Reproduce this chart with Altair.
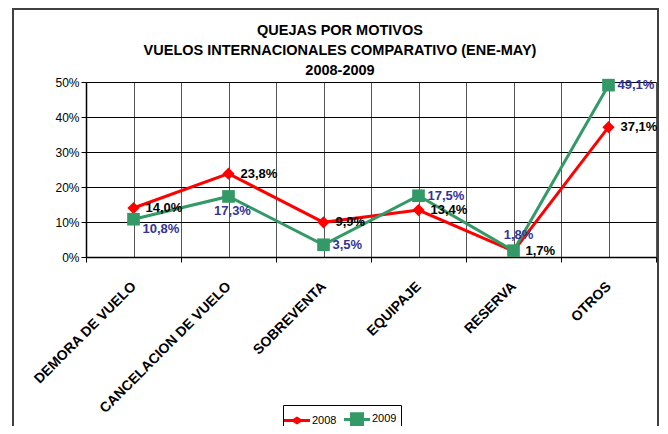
import json
import altair as alt
import pandas as pd

categorias = ["DEMORA DE VUELO", "CANCELACION DE VUELO", "SOBREVENTA",
              "EQUIPAJE", "RESERVA", "OTROS"]
valores_2008 = [14.0, 23.8, 9.9, 13.4, 1.7, 37.1]
valores_2009 = [10.8, 17.3, 3.5, 17.5, 1.8, 49.1]
series = ["2008", "2009"]
y_ticks = [0, 10, 20, 30, 40, 50]
titulo = ["QUEJAS POR MOTIVOS",
          "VUELOS INTERNACIONALES COMPARATIVO (ENE-MAY)",
          "2008-2009"]

rows = []
for s, vals in zip(series, [valores_2008, valores_2009]):
    for i, (c, v) in enumerate(zip(categorias, vals)):
        rows.append({"idx": i, "categoria": c, "serie": s, "valor": v})
df = pd.DataFrame(rows)

FONT = "Liberation Sans"
RED = "#FF0000"
GREEN = "#339966"
BLUE = "#333399"

grid_vals = [i / 2 - 0.5 for i in range(2 * len(categorias) + 1)]
cats_js = json.dumps(categorias)

x_enc = alt.X(
    "idx:Q",
    title=None,
    scale=alt.Scale(domain=[-0.5, len(categorias) - 0.5], nice=False, zero=False),
    axis=alt.Axis(
        values=grid_vals,
        labelExpr=f"datum.value % 1 == 0 ? {cats_js}[datum.value] : ''",
        labelAngle=315,
        labelAlign="right",
        labelBaseline="middle",
        labelPadding=22,
        labelFont=FONT,
        labelFontSize=14,
        labelFontWeight="bold",
        labelColor="black",
        labelOverlap=False,
        labelBound=False,
        labelFlush=False,
        grid=True,
        gridColor="#555555",
        gridWidth=1,
        gridOpacity=1,
        domainColor="black",
        domainWidth=1.5,
        tickColor="black",
        tickSize=5,
        tickOpacity={"condition": {"test": "datum.value % 1 != 0", "value": 1}, "value": 0},
    ),
)
y_enc = alt.Y(
    "valor:Q",
    title=None,
    scale=alt.Scale(domain=[0, 50], nice=False, zero=True),
    axis=alt.Axis(
        values=y_ticks,
        labelExpr="datum.value + '%'",
        labelFont=FONT,
        labelFontSize=12,
        labelColor="black",
        labelPadding=2,
        grid=True,
        gridColor="black",
        gridWidth=1,
        gridOpacity=1,
        domainColor="black",
        domainWidth=1.5,
        tickColor="black",
        tickSize=5,
    ),
)

base = alt.Chart(df).transform_calculate(
    lbl="replace(format(datum.valor, '.1f'), '.', ',') + '%'"
)

frame = alt.Chart(pd.DataFrame({"k": [0]})).mark_rect(
    fillOpacity=0, stroke="#404040", strokeWidth=2
).encode(
    x=alt.value(-73), x2=alt.value(572), y=alt.value(-73), y2=alt.value(420)
)

def serie(s):
    return base.transform_filter(f"datum.serie == '{s}'")

line08 = serie("2008").mark_line(color=RED, strokeWidth=3).encode(x=x_enc, y=y_enc)
line09 = serie("2009").mark_line(color=GREEN, strokeWidth=3).encode(x=x_enc, y=y_enc)
pts08 = serie("2008").mark_point(shape="diamond", filled=True, size=150, color=RED,
                                 opacity=1).encode(x=x_enc, y=y_enc)
pts09 = serie("2009").mark_point(shape="square", filled=True, size=160, color=GREEN,
                                 opacity=1).encode(x=x_enc, y=y_enc)

lab_style = dict(font=FONT, fontSize=13, fontWeight="bold")
lab08 = serie("2008").mark_text(align="left", baseline="middle", dx=12, color="black",
                                **lab_style).encode(x=x_enc, y=y_enc, text="lbl:N")
lab09_r = serie("2009").transform_filter("datum.idx == 2 || datum.idx == 3 || datum.idx == 5").mark_text(
    align="left", baseline="middle", dx=9, color=BLUE, **lab_style
).encode(x=x_enc, y=y_enc, text="lbl:N")
lab09_d = serie("2009").transform_filter("datum.idx == 0").mark_text(
    align="left", baseline="middle", dx=9, dy=10, color=BLUE, **lab_style
).encode(x=x_enc, y=y_enc, text="lbl:N")
lab09_b = serie("2009").transform_filter("datum.idx == 1").mark_text(
    align="center", baseline="middle", dx=4, dy=15, color=BLUE, **lab_style
).encode(x=x_enc, y=y_enc, text="lbl:N")
lab09_a = serie("2009").transform_filter("datum.idx == 4").mark_text(
    align="center", baseline="middle", dx=5, dy=-16, color=BLUE, **lab_style
).encode(x=x_enc, y=y_enc, text="lbl:N")

# legend symbols: line with a marker in the middle (1 unit = 10 px)
path_diamond = ("M-1.3,-0.15L-0.4,-0.15L0,-0.4L0.4,-0.15L1.3,-0.15L1.3,0.15L0.4,0.15"
                "L0,0.4L-0.4,0.15L-1.3,0.15Z")
path_square = ("M-1.3,-0.15L-0.7,-0.15L-0.7,-0.72L0.7,-0.72L0.7,-0.15L1.3,-0.15L1.3,0.15"
               "L0.7,0.15L0.7,0.72L-0.7,0.72L-0.7,0.15L-1.3,0.15Z")
legend = alt.Legend(
    title=None, orient="none", direction="horizontal", legendX=197, legendY=323,
    symbolSize=400, labelFont=FONT, labelFontSize=11, labelColor="black",
    labelOffset=5, columnPadding=7, padding=4, strokeColor="black",
    fillColor="white", symbolStrokeWidth=0,
)
leg = base.transform_filter("datum.valor < 0").mark_point(filled=True, opacity=1).encode(
    x=x_enc, y=y_enc,
    color=alt.Color("serie:N", scale=alt.Scale(domain=series, range=[RED, GREEN]), legend=legend),
    shape=alt.Shape("serie:N", scale=alt.Scale(domain=series, range=[path_diamond, path_square]),
                    legend=legend),
)

chart = alt.layer(
    frame, line08, line09, pts08, pts09, lab08, lab09_r, lab09_d, lab09_b, lab09_a, leg
).properties(
    width=570,
    height=175,
    autosize=alt.AutoSizeParams(type="none"),
    padding={"left": 78, "top": 74, "right": 4, "bottom": 169},
    title=alt.TitleParams(
        text=titulo, anchor="middle", dx=-31, font=FONT, fontSize=14.5,
        fontWeight="bold", color="black", lineHeight=20, offset=-70,
    ),
).configure_view(stroke=None)

chart.save("out.html", embed_options={"renderer": "svg", "actions": False})
